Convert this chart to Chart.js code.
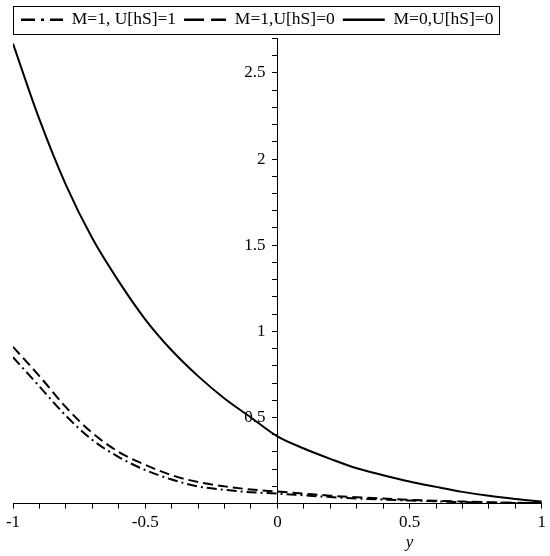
<!DOCTYPE html>
<html>
<head>
<meta charset="utf-8">
<script src="https://cdn.jsdelivr.net/npm/chart.js@4"></script>
<style>
  html, body { margin: 0; padding: 0; background: #fff; }
</style>
</head>
<body>
<canvas id="plot" width="550" height="556"></canvas>
<script>
// x-Werte (Achse "y") und die drei Kurven
const yWerte = [-1, -0.9, -0.8, -0.7, -0.6, -0.5, -0.4, -0.3, -0.2, -0.1, 0,
  0.1, 0.2, 0.3, 0.4, 0.5, 0.6, 0.7, 0.8, 0.9, 1];
const kurveM1U1 = [0.85, 0.68, 0.51, 0.37, 0.27, 0.195, 0.14, 0.10, 0.08, 0.066, 0.058,
  0.048, 0.038, 0.030, 0.023, 0.018, 0.013, 0.009, 0.006, 0.004, 0.002];
const kurveM1U0 = [0.91, 0.74, 0.56, 0.41, 0.30, 0.225, 0.165, 0.125, 0.10, 0.082, 0.07,
  0.058, 0.046, 0.037, 0.029, 0.022, 0.017, 0.012, 0.008, 0.005, 0.003];
const kurveM0U0 = [2.67, 2.23, 1.85, 1.54, 1.29, 1.07, 0.89, 0.74, 0.61, 0.50, 0.39,
  0.32, 0.26, 0.205, 0.165, 0.128, 0.097, 0.068, 0.045, 0.027, 0.012];
const serienNamen = ["M=1, U[hS]=1", "M=1,U[hS]=0", "M=0,U[hS]=0"];
const xBeschriftung = [-1, -0.5, 0, 0.5, 1];
const yBeschriftung = [0.5, 1, 1.5, 2, 2.5];
const achsenTitel = "y";

const SCHRIFT = "'Liberation Serif', 'Times New Roman', serif";

function punkte(werte) {
  return yWerte.map((x, i) => ({ x, y: werte[i] }));
}

function istBeschriftet(liste, v) {
  return liste.some(t => Math.abs(t - v) < 1e-6);
}

function format(v) {
  return String(Math.round(v * 2) / 2);
}

// Rahmen um die Legende, y-Beschriftung links der Achse und Achsentitel "y"
const extras = {
  id: "extras",
  afterDraw(chart) {
    const { ctx, legend, scales } = chart;
    const boxes = legend.legendHitBoxes;
    if (boxes && boxes.length) {
      const letzte = boxes[boxes.length - 1];
      const links = legend.left + 0.5;
      const rechts = Math.round(letzte.left + letzte.width + 6) + 0.5;
      const oben = Math.round(boxes[0].top - 5) + 0.5;
      const unten = Math.round(boxes[0].top + boxes[0].height + 5) + 0.5;
      ctx.save();
      ctx.strokeStyle = "#000";
      ctx.lineWidth = 1;
      ctx.strokeRect(links, oben, rechts - links, unten - oben);
      ctx.restore();
    }

    ctx.save();
    ctx.fillStyle = "#000";
    ctx.font = "17px " + SCHRIFT;
    ctx.textAlign = "right";
    ctx.textBaseline = "middle";
    const x0 = scales.x.getPixelForValue(0);
    yBeschriftung.forEach(v => {
      ctx.fillText(format(v), x0 - 12, scales.y.getPixelForValue(v));
    });

    ctx.font = "italic 17px " + SCHRIFT;
    ctx.textAlign = "center";
    ctx.textBaseline = "alphabetic";
    ctx.fillText(achsenTitel, scales.x.getPixelForValue(0.5), 547);
    ctx.restore();
  }
};

const datasets = [
  { label: serienNamen[0], data: punkte(kurveM1U1), borderDash: [10, 4, 2, 4] },
  { label: serienNamen[1], data: punkte(kurveM1U0), borderDash: [10, 5] },
  { label: serienNamen[2], data: punkte(kurveM0U0), borderDash: [] }
].map(d => ({
  ...d,
  borderColor: "#000",
  backgroundColor: "#000",
  borderWidth: 2,
  pointRadius: 0,
  fill: false,
  cubicInterpolationMode: "monotone"
}));

const legendenStriche = [[14, 6, 3, 6], [20, 7], []];

const config = {
  type: "line",
  data: { datasets },
  options: {
    responsive: false,
    animation: false,
    layout: { padding: { left: 13, right: 7, top: 3, bottom: 19 } },
    plugins: {
      tooltip: { enabled: false },
      legend: {
        position: "top",
        align: "start",
        labels: {
          usePointStyle: true,
          pointStyle: "line",
          pointStyleWidth: 42,
          boxWidth: 42,
          padding: 8,
          color: "#000",
          font: { family: SCHRIFT, size: 17.5 },
          generateLabels(chart) {
            const items = Chart.defaults.plugins.legend.labels.generateLabels(chart);
            items.forEach((it, i) => {
              it.lineDash = legendenStriche[i];
              it.lineWidth = 2.5;
            });
            return items;
          }
        }
      }
    },
    scales: {
      x: {
        type: "linear",
        min: -1,
        max: 1,
        grid: { drawOnChartArea: false, tickLength: 5, color: "#000" },
        border: { color: "#000", width: 1 },
        ticks: {
          stepSize: 0.1,
          autoSkip: false,
          maxRotation: 0,
          padding: 4,
          color: "#000",
          font: { family: SCHRIFT, size: 17 },
          callback: v => istBeschriftet(xBeschriftung, v) ? format(v) : ""
        }
      },
      y: {
        type: "linear",
        min: 0,
        max: 2.7,
        position: { x: 0 },
        grid: { drawOnChartArea: false, tickLength: 5, color: "#000" },
        border: { color: "#000", width: 1 },
        ticks: {
          display: false,
          stepSize: 0.1,
          autoSkip: false
        }
      }
    }
  },
  plugins: [extras]
};

new Chart(document.getElementById("plot"), config);
</script>
</body>
</html>
